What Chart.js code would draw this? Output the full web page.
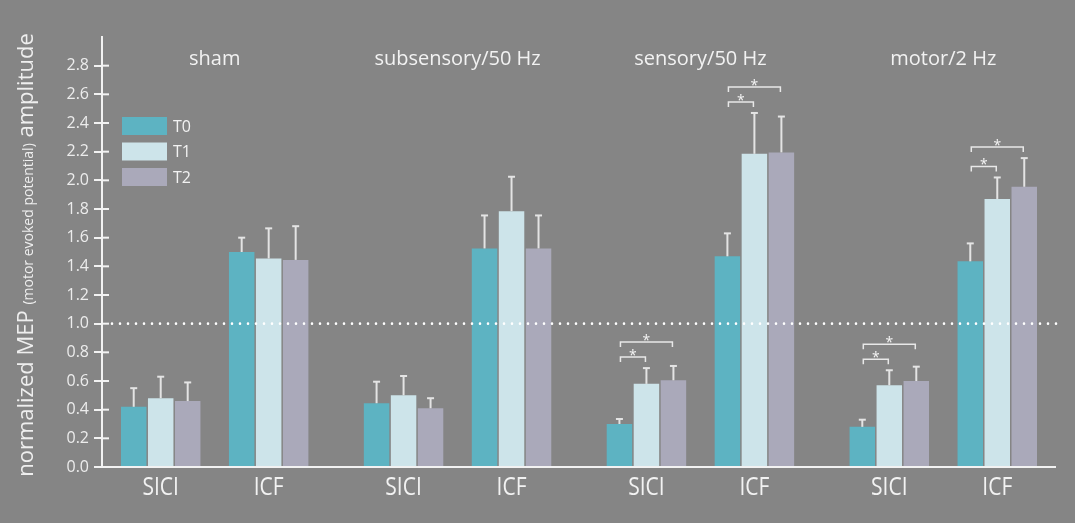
<!DOCTYPE html>
<html>
<head>
<meta charset="utf-8">
<title>Normalized MEP amplitude</title>
<script src="https://cdn.jsdelivr.net/npm/chart.js@4.4.1/dist/chart.umd.min.js"></script>
<style>
  html, body { margin: 0; padding: 0; background: #858585; }
  canvas { display: block; }
</style>
</head>
<body>
<canvas id="chart" width="1075" height="523"></canvas>
<script>
// Stimulation groups, measures and time points
const groups = ["sham", "subsensory/50 Hz", "sensory/50 Hz", "motor/2 Hz"];
const tests = ["SICI", "ICF"];
const timepoints = ["T0", "T1", "T2"];
const yTicks = [0, 0.2, 0.4, 0.6, 0.8, 1.0, 1.2, 1.4, 1.6, 1.8, 2.0, 2.2, 2.4, 2.6, 2.8];

// mean values per group
const siciT0 = [0.42, 0.445, 0.30, 0.28];
const siciT1 = [0.48, 0.50, 0.58, 0.57];
const siciT2 = [0.46, 0.41, 0.605, 0.60];
const icfT0 = [1.50, 1.525, 1.47, 1.435];
const icfT1 = [1.455, 1.785, 2.185, 1.87];
const icfT2 = [1.445, 1.525, 2.195, 1.955];

// error bars (upper half only)
const siciT0Err = [0.13, 0.15, 0.035, 0.05];
const siciT1Err = [0.15, 0.135, 0.11, 0.105];
const siciT2Err = [0.13, 0.07, 0.10, 0.10];
const icfT0Err = [0.10, 0.23, 0.16, 0.125];
const icfT1Err = [0.21, 0.24, 0.285, 0.15];
const icfT2Err = [0.235, 0.23, 0.25, 0.20];

// significant comparisons: [group, test, from time point, to time point]
const significance = [
  [2, "SICI", 0, 1], [2, "SICI", 0, 2],
  [2, "ICF", 0, 1], [2, "ICF", 0, 2],
  [3, "SICI", 0, 1], [3, "SICI", 0, 2],
  [3, "ICF", 0, 1], [3, "ICF", 0, 2],
];

const series = { SICI: [siciT0, siciT1, siciT2], ICF: [icfT0, icfT1, icfT2] };
const errors = { SICI: [siciT0Err, siciT1Err, siciT2Err], ICF: [icfT0Err, icfT1Err, icfT2Err] };
const colors = ["#5db3c2", "#cde4ea", "#aaa9ba"];
const ink = "#f2f2f2";
const font = "'Open Sans', sans-serif";

Chart.defaults.font.family = font;

const datasets = [];
tests.forEach((test, t) => {
  if (t > 0) {
    // empty slot between the SICI and ICF clusters
    datasets.push({ label: "", spacer: true, data: groups.map((g, i) => ({ x: i, y: null })) });
  }
  timepoints.forEach((tp, k) => {
    datasets.push({
      label: tp,
      test: test,
      tp: k,
      data: series[test][k].map((v, i) => ({ x: i, y: v })),
      backgroundColor: colors[k],
      borderWidth: 0,
    });
  });
});

function findMeta(chart, test, k) {
  const idx = chart.data.datasets.findIndex((d) => d.test === test && d.tp === k);
  return chart.getDatasetMeta(idx);
}

function strokeLine(ctx, x1, y1, x2, y2) {
  ctx.beginPath();
  ctx.moveTo(x1, y1);
  ctx.lineTo(x2, y2);
  ctx.stroke();
}

const overlay = {
  id: "overlay",
  beforeDraw(chart) {
    const { ctx, width, height } = chart;
    ctx.save();
    ctx.fillStyle = "#858585";
    ctx.fillRect(0, 0, width, height);
    ctx.restore();
  },
  afterDatasetsDraw(chart) {
    const { ctx, chartArea } = chart;
    const yScale = chart.scales.y;
    const xScale = chart.scales.x;
    const errTop = (test, k, g) => yScale.getPixelForValue(series[test][k][g] + errors[test][k][g]);

    ctx.save();
    ctx.strokeStyle = ink;
    ctx.lineWidth = 2;
    strokeLine(ctx, chartArea.left, chartArea.bottom, chartArea.right, chartArea.bottom);
    yScale.ticks.forEach((t) => {
      const py = yScale.getPixelForValue(t.value);
      strokeLine(ctx, chartArea.left, py, chartArea.left + 7, py);
    });

    // error bars
    ctx.strokeStyle = "#e4e4e4";
    ctx.lineWidth = 2;
    tests.forEach((test) => {
      timepoints.forEach((tp, k) => {
        const meta = findMeta(chart, test, k);
        meta.data.forEach((bar, g) => {
          const top = errTop(test, k, g);
          strokeLine(ctx, bar.x, bar.y, bar.x, top);
          strokeLine(ctx, bar.x - 3.5, top, bar.x + 3.5, top);
        });
      });
    });

    // dotted reference line at 1.0
    const y1 = yScale.getPixelForValue(1);
    ctx.save();
    ctx.strokeStyle = "#ffffff";
    ctx.lineWidth = 2.6;
    ctx.lineCap = "round";
    ctx.setLineDash([0, 8]);
    strokeLine(ctx, chartArea.left + 10, y1, chartArea.right + 6, y1);
    ctx.restore();

    // significance brackets
    ctx.strokeStyle = "#e8e8e8";
    ctx.fillStyle = "#f4f4f4";
    ctx.lineWidth = 1.5;
    ctx.font = "14px " + font;
    ctx.textAlign = "center";
    ctx.textBaseline = "alphabetic";
    const levels = {};
    significance.forEach(([g, test, a, b]) => {
      const key = g + test;
      const tops = [];
      for (let k = a; k <= b; k++) tops.push(errTop(test, k, g));
      let py = Math.min(...tops) - 11;
      if (levels[key] !== undefined) py = Math.min(py, levels[key] - 15);
      levels[key] = py;
      const xa = findMeta(chart, test, a).data[g].x + 1;
      const xb = findMeta(chart, test, b).data[g].x - 1;
      ctx.beginPath();
      ctx.moveTo(xa, py + 5);
      ctx.lineTo(xa, py);
      ctx.lineTo(xb, py);
      ctx.lineTo(xb, py + 5);
      ctx.stroke();
      ctx.fillText("*", (xa + xb) / 2, py + 3);
    });

    // group titles
    ctx.fillStyle = ink;
    ctx.font = "20px " + font;
    ctx.textBaseline = "middle";
    groups.forEach((name, g) => {
      ctx.fillText(name, xScale.getPixelForValue(g), chartArea.top + 22);
    });

    // SICI / ICF labels under each cluster
    ctx.font = "25px " + font;
    tests.forEach((test) => {
      const meta = findMeta(chart, test, 1);
      meta.data.forEach((bar) => {
        ctx.save();
        ctx.translate(bar.x, chartArea.bottom + 21);
        ctx.scale(0.84, 1);
        ctx.fillText(test, 0, 0);
        ctx.restore();
      });
    });

    // legend
    ctx.textAlign = "left";
    ctx.font = "16px " + font;
    timepoints.forEach((tp, k) => {
      const bx = chartArea.left + 20;
      const by = chartArea.top + 80 + k * 25.5;
      ctx.fillStyle = colors[k];
      ctx.fillRect(bx, by, 45, 18);
      ctx.fillStyle = ink;
      ctx.fillText(tp, bx + 51, by + 10);
    });

    // y axis title with a smaller middle part
    const parts = [
      ["normalized MEP ", "22px " + font],
      ["(motor evoked potential)", "14px " + font],
      [" amplitude", "22px " + font],
    ];
    let total = 0;
    parts.forEach(([text, f]) => {
      ctx.font = f;
      total += ctx.measureText(text).width;
    });
    ctx.translate(33, (chartArea.top + chartArea.bottom) / 2 + 3);
    ctx.rotate(-Math.PI / 2);
    ctx.textBaseline = "alphabetic";
    ctx.fillStyle = "#eeeeee";
    let cx = -total / 2;
    parts.forEach(([text, f]) => {
      ctx.font = f;
      ctx.fillText(text, cx, 0);
      cx += ctx.measureText(text).width;
    });
    ctx.restore();
  },
};

new Chart(document.getElementById("chart"), {
  type: "bar",
  data: { datasets: datasets },
  options: {
    responsive: false,
    animation: false,
    categoryPercentage: 0.778,
    barPercentage: 0.944,
    layout: { padding: { left: 0, right: 20, top: 37, bottom: 0 } },
    plugins: {
      legend: { display: false },
      tooltip: { enabled: false },
    },
    scales: {
      x: {
        type: "linear",
        offset: false,
        min: -0.464,
        max: 3.46,
        // one tick per group so bar widths follow the group spacing
        afterBuildTicks: (scale) => {
          scale.ticks = groups.map((g, i) => ({ value: i }));
        },
        ticks: { display: false },
        grid: { display: false },
        border: { color: ink, width: 2 },
        afterFit: (scale) => {
          scale.height = 56;
        },
      },
      y: {
        min: 0,
        max: 3.0,
        afterBuildTicks: (scale) => {
          scale.ticks = yTicks.map((v) => ({ value: v }));
        },
        ticks: {
          color: "#ececec",
          font: { size: 16 },
          padding: 5,
          callback: (v) => Number(v).toFixed(1),
        },
        grid: {
          drawOnChartArea: false,
          drawTicks: true,
          tickLength: 8,
          color: ink,
          lineWidth: 2,
        },
        border: { color: ink, width: 2 },
        afterFit: (scale) => {
          scale.width = 102;
        },
      },
    },
  },
  plugins: [overlay],
});
</script>
</body>
</html>
